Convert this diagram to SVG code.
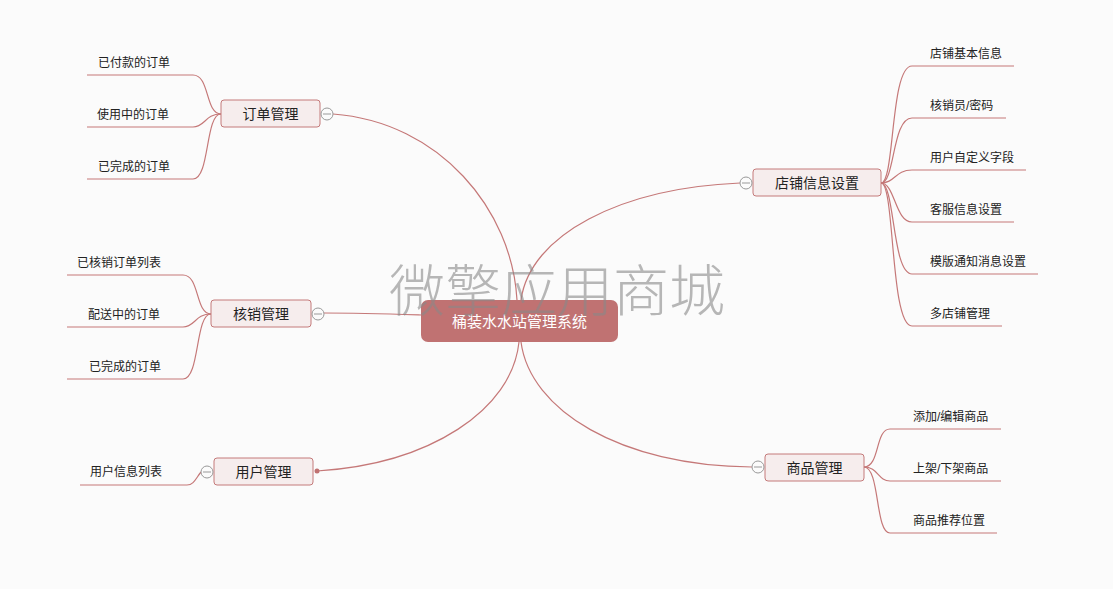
<svg xmlns="http://www.w3.org/2000/svg" width="1113" height="589" viewBox="0 0 1113 589">
<style>
.t{font-family:"Liberation Sans","Noto Sans CJK SC",sans-serif;fill:#222;}
.sub{font-size:12px;}
.main{font-size:14px;text-anchor:middle;}
.mainbox{fill:#f6eded;stroke:#c47a7a;stroke-width:1;}
.c{fill:none;stroke:#c57878;stroke-width:1.2;}
.fold{fill:#fbfbfb;stroke:#999;stroke-width:1;}
.foldl{stroke:#999;stroke-width:1;}
</style>
<rect width="1113" height="589" fill="#fbfbfb"/>
<g id="connectors">
<path class="c" d="M333,114 C440,122 512,210 517,300"/>
<path class="c" d="M324,313 C360,313 390,314 421,315"/>
<path class="c" d="M317,471 C430,464 512,410 519,342"/>
<path class="c" d="M740,183 C620,188 530,235 521,300"/>
<path class="c" d="M752,467 C620,466 530,410 521,342"/>
<path class="c" d="M221,114 C205,114 210,75 193,75 L87,75"/>
<path class="c" d="M221,114 C205,114 205,127 193,127 L87,127"/>
<path class="c" d="M221,114 C205,114 210,179 193,179 L87,179"/>
<path class="c" d="M211,314 C195,314 200,275 183,275 L67,275"/>
<path class="c" d="M211,314 C195,314 195,327 183,327 L67,327"/>
<path class="c" d="M211,314 C195,314 200,379 183,379 L67,379"/>
<path class="c" d="M201,472 C196,478 194,485 187,485 L80,485"/>
<path class="c" d="M881,183 C895,183 890,66 912,66 L1014,66"/>
<path class="c" d="M881,183 C895,183 892,118 912,118 L1006,118"/>
<path class="c" d="M881,183 C895,183 895,170 912,170 L1026,170"/>
<path class="c" d="M881,183 C895,183 895,222 912,222 L1014,222"/>
<path class="c" d="M881,183 C895,183 892,274 912,274 L1038,274"/>
<path class="c" d="M881,183 C895,183 890,326 912,326 L1002,326"/>
<path class="c" d="M864,467 C880,467 875,429 890,429 L1001,429"/>
<path class="c" d="M864,467 C878,467 878,481 890,481 L1001,481"/>
<path class="c" d="M864,467 C880,467 875,533 890,533 L997,533"/>
</g>
<g id="center">
<rect x="421" y="300" width="197" height="42" rx="7" fill="#c07272"/>
<text x="519.5" y="327" font-size="15" fill="#fff" text-anchor="middle" font-family="Liberation Sans,Noto Sans CJK SC,sans-serif">桶装水水站管理系统</text>
</g>
<g id="n-order">
<rect class="mainbox" x="221" y="100" width="99" height="27" rx="3"/>
<text class="t main" x="270.5" y="119">订单管理</text>
<circle class="fold" cx="327" cy="114" r="6"/><line class="foldl" x1="323" y1="114" x2="331" y2="114"/>
</g>
<g id="n-verify">
<rect class="mainbox" x="211" y="300" width="100" height="27" rx="3"/>
<text class="t main" x="261" y="319">核销管理</text>
<circle class="fold" cx="318" cy="314" r="6"/><line class="foldl" x1="314" y1="314" x2="322" y2="314"/>
</g>
<g id="n-user">
<rect class="mainbox" x="214" y="458" width="99" height="27" rx="3"/>
<text class="t main" x="263.5" y="477">用户管理</text>
<circle class="fold" cx="207" cy="472" r="6"/><line class="foldl" x1="203" y1="472" x2="211" y2="472"/>
<circle cx="317" cy="471" r="2.5" fill="#c07272"/>
</g>
<g id="n-shop">
<rect class="mainbox" x="753" y="169" width="128" height="27" rx="3"/>
<text class="t main" x="817" y="188">店铺信息设置</text>
<circle class="fold" cx="746" cy="183" r="6"/><line class="foldl" x1="742" y1="183" x2="750" y2="183"/>
</g>
<g id="n-goods">
<rect class="mainbox" x="765" y="454" width="99" height="27" rx="3"/>
<text class="t main" x="814.5" y="473">商品管理</text>
<circle class="fold" cx="758" cy="467" r="6"/><line class="foldl" x1="754" y1="467" x2="762" y2="467"/>
</g>
<g id="subs">
<text class="t sub" x="98" y="67">已付款的订单</text>
<text class="t sub" x="97" y="119">使用中的订单</text>
<text class="t sub" x="98" y="171">已完成的订单</text>
<text class="t sub" x="77" y="267">已核销订单列表</text>
<text class="t sub" x="88" y="319">配送中的订单</text>
<text class="t sub" x="89" y="371">已完成的订单</text>
<text class="t sub" x="90" y="476">用户信息列表</text>
<text class="t sub" x="930" y="58">店铺基本信息</text>
<text class="t sub" x="930" y="110">核销员/密码</text>
<text class="t sub" x="930" y="162">用户自定义字段</text>
<text class="t sub" x="930" y="214">客服信息设置</text>
<text class="t sub" x="930" y="266">模版通知消息设置</text>
<text class="t sub" x="930" y="318">多店铺管理</text>
<text class="t sub" x="913" y="421">添加/编辑商品</text>
<text class="t sub" x="913" y="473">上架/下架商品</text>
<text class="t sub" x="913" y="525">商品推荐位置</text>
</g>
<text x="557" y="311" font-size="56" fill="#888" fill-opacity="0.6" text-anchor="middle" font-weight="300" font-family="Noto Sans CJK SC,sans-serif">微擎应用商城</text>
</svg>
